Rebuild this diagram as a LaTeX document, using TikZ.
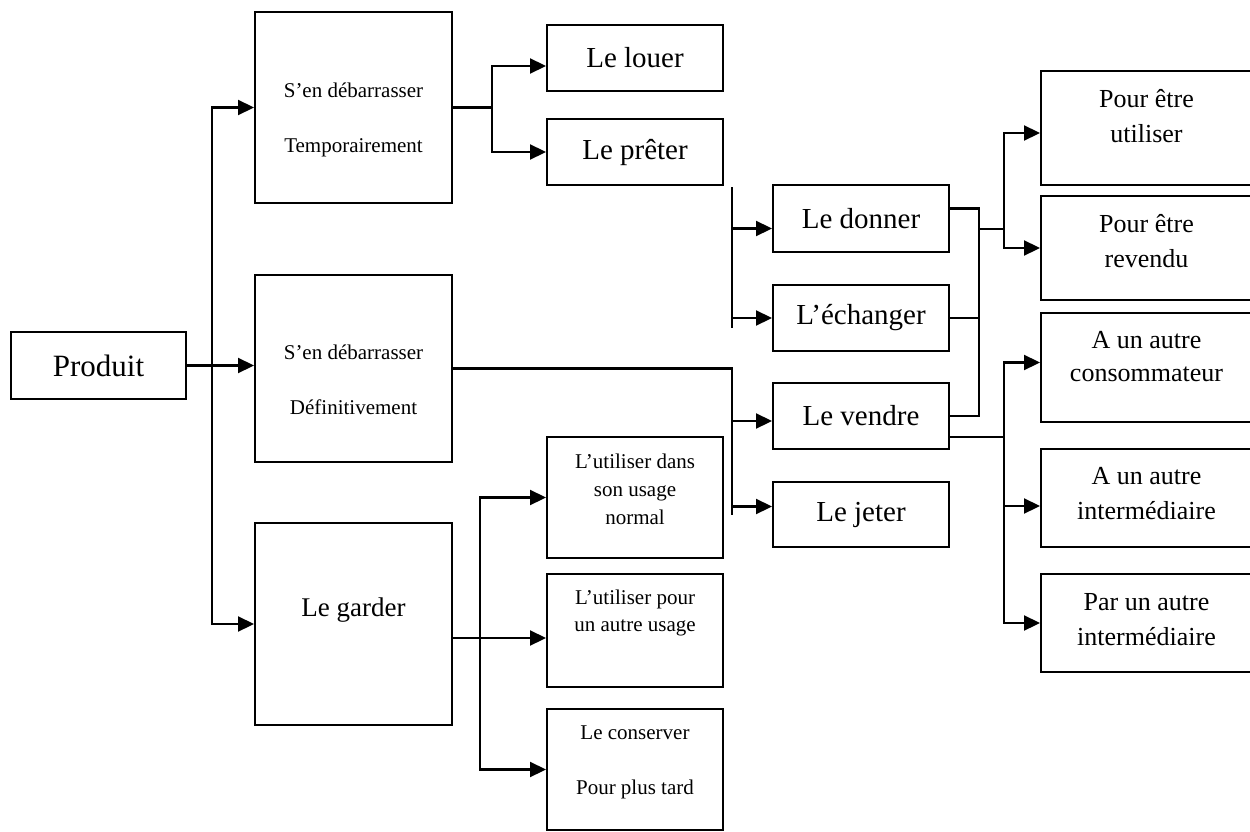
\documentclass[tikz,border=0pt]{standalone}
\usepackage{fontspec}
\setmainfont{Liberation Serif}
\usetikzlibrary{arrows.meta}

\newcommand{\fs}[2]{\fontsize{#1}{#2}\selectfont}

\tikzset{
  box/.style={draw, line width=2pt, inner sep=0pt, align=center},
  sz/.style 2 args={minimum width=#1pt, minimum height=#2pt},
  arr/.style={-{Triangle[length=16pt,width=15pt]}},
  small/.style={font=\fs{21}{55}},
  mid/.style={font=\fs{29}{34}},
  rtxt/.style={font=\fs{26}{35}},
  right/.style={box, sz={211}{#1}},
  every label/.style={align=center, inner sep=0pt}
}

\begin{document}
\begin{tikzpicture}[x=1pt,y=-1pt,line width=2.2pt]
\useasboundingbox (0,0) rectangle (1250,832);

\node[box,sz={175}{67},font=\fs{31}{36}] (prod) at (98.5,365.5) {Produit};

\node[box,sz={197}{191},label={[small,yshift=-12pt]center:{S’en débarrasser\\Temporairement}}] (temp) at (353.5,107.5) {};
\node[box,sz={197}{187},label={[small,yshift=-11pt]center:{S’en débarrasser\\Définitivement}}] (def) at (353.5,368.5) {};
\node[box,sz={197}{202},label={[font=\fs{27}{32},yshift=14pt]center:Le garder}] (garder) at (353.5,624) {};

\node[box,sz={176}{66},mid] (louer) at (635,58) {Le louer};
\node[box,sz={176}{66},mid] (preter) at (635,152) {Le prêter};

\node[box,sz={176}{121},label={[font=\fs{21}{28},yshift=8pt]center:{L’utiliser dans\\son usage\\normal}}] (usage1) at (635,497.5) {};
\node[box,sz={176}{113},label={[font=\fs{21}{27},yshift=18pt]center:{L’utiliser pour\\un autre usage}}] (usage2) at (635,630.5) {};
\node[box,sz={176}{121},label={[small,yshift=7pt]center:{Le conserver\\Pour plus tard}}] (conserver) at (635,769.5) {};

\node[box,sz={176}{67},mid] (donner) at (861,218.5) {Le donner};
\node[box,sz={176}{66},mid] (echanger) at (861,318) {L’échanger};
\node[box,sz={176}{66},mid] (vendre) at (861,416) {Le vendre};
\node[box,sz={176}{65},mid] (jeter) at (861,514.5) {Le jeter};

\node[right=114,label={[rtxt,yshift=12pt]center:{Pour être\\utiliser}}] (util) at (1146.5,128) {};
\node[right=104,label={[rtxt,yshift=7pt]center:{Pour être\\revendu}}] (revendu) at (1146.5,248) {};
\node[right=109,label={[font=\fs{26}{33},yshift=11pt]center:{A un autre\\consommateur}}] (conso) at (1146.5,367.5) {};
\node[right=98,label={[rtxt,yshift=4pt]center:{A un autre\\intermédiaire}}] (inter1) at (1146.5,498) {};
\node[right=98,label={[rtxt,yshift=3pt]center:{Par un autre\\intermédiaire}}] (inter2) at (1146.5,623) {};

% produit
\coordinate (t1) at (212,365.5);
\draw[arr] (prod.east) -- (prod.east -| def.west);
\draw[arr] (t1) |- (temp.west);
\draw[arr] (t1) |- (garder.west);

% temporairement
\coordinate (t2) at (492,107.5);
\draw (temp.east) -- (t2);
\draw[arr] (t2) |- ([yshift=-8pt]louer.west);
\draw[arr] (t2) |- (preter.west);

% definitivement
\coordinate (t3) at (732,187);
\coordinate (t4) at (732,328);
\draw (t3) -- (t4);
\draw[arr] (t3 |- donner.west) ++(0,10) -- ([yshift=-10pt]donner.west);
\draw[arr] (t3 |- echanger.west) -- (echanger.west);
\draw[arr] (def.east) -| (t3 |- jeter.west) ++(0,-8) -- ([yshift=8pt]jeter.west);
\draw[arr] (def.east -| t3) |- ([yshift=-5pt]vendre.west);

% donner, echanger, vendre
\coordinate (t5) at (979,229);
\coordinate (t6) at (1004,229);
\draw ([yshift=10pt]donner.east) -| (t5 |- vendre.east) -- (vendre.east);
\draw (echanger.east) -- (echanger.east -| t5);
\draw (t5) -- (t6);
\draw[arr] (t6) |- ([yshift=-5pt]util.west);
\draw[arr] (t6) |- (revendu.west);

\coordinate (t7) at (1004,437);
\draw ([yshift=-21pt]vendre.east) -- (t7);
\draw[arr] (t7) |- ([yshift=5pt]conso.west);
\draw[arr] (t7) |- ([yshift=-8pt]inter1.west);
\draw[arr] (t7) |- (inter2.west);

% garder
\coordinate (t8) at (480,638);
\draw ([yshift=-14pt]garder.east) -- (t8);
\draw[arr] (t8) |- (usage1.west);
\draw[arr] (t8) -- (t8 -| usage2.west);
\draw[arr] (t8) |- (conserver.west);

\end{tikzpicture}
\end{document}
